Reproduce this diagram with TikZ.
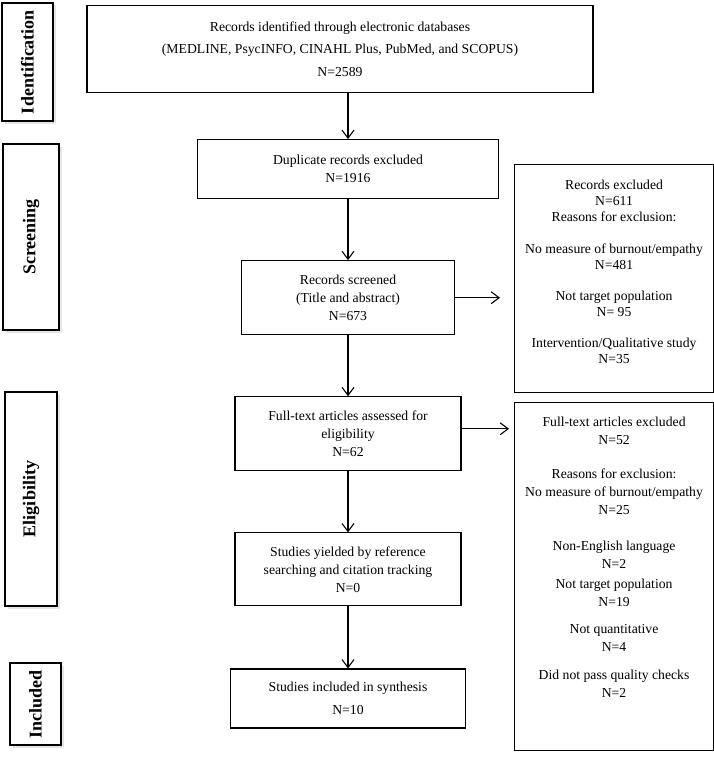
\documentclass[tikz,border=0pt]{standalone}
\usepackage{fontspec}
\setmainfont{Liberation Serif}
\usepackage{tikz}
\usetikzlibrary{arrows.meta,positioning,shadows}

\begin{document}
\begin{tikzpicture}[
    x=1pt, y=-1pt,
    box/.style={rectangle, draw, line width=1.1pt, align=center, inner sep=0pt, font=\fontsize{13.7}{18}\selectfont},
    widebox/.style={box, font=\fontsize{13.7}{22.5}\selectfont},
    exclbox/.style={box, minimum width=199pt, anchor=north west},
    phase/.style={rectangle, draw, line width=1.1pt, fill=white, rotate=90, inner sep=0pt, font=\fontsize{18}{20}\selectfont\bfseries, drop shadow={shadow xshift=2.5pt, shadow yshift=-2.5pt, fill=gray!40}},
    arrow/.style={-{Straight Barb[length=8pt,width=12pt]}, line width=1.1pt}
]
\useasboundingbox (0,0) rectangle (714,760);

% Phase labels (left column)
\node[phase, minimum width=118pt, minimum height=51pt] (id_label) at (27.5,62) {Identification};
\node[phase, minimum width=186pt, minimum height=56pt] (scr_label) at (31,237) {Screening};
\node[phase, minimum width=214pt, minimum height=52pt] (elig_label) at (31,499) {Eligibility};
\node[phase, minimum width=82pt, minimum height=51pt] (incl_label) at (35.5,704) {Included};

% Main flow
\node[widebox, minimum width=506pt, minimum height=87pt] (db_search) at (340,49) {Records identified through electronic databases\\(MEDLINE, PsycINFO, CINAHL Plus, PubMed, and SCOPUS)\\N=2589};
\node[box, minimum width=301pt, minimum height=59pt, below=46pt of db_search, xshift=8pt] (dup_excl) {Duplicate records excluded\\N=1916};
\node[box, minimum width=213pt, minimum height=74pt, below=61pt of dup_excl] (screened) {Records screened\\(Title and abstract)\\N=673};
\node[box, minimum width=226pt, minimum height=74pt, below=61pt of screened] (fulltext) {Full-text articles assessed for\\eligibility\\N=62};
\node[box, minimum width=226pt, minimum height=73pt, below=61pt of fulltext] (ref_search) {Studies yielded by reference\\searching and citation tracking\\N=0};
\node[widebox, minimum width=235pt, minimum height=59pt, below=62pt of ref_search] (included) {Studies included in synthesis\\N=10};

% Exclusion boxes (right column)
\node[exclbox, minimum height=228pt, font=\fontsize{13.7}{16}\selectfont] (screen_excl) at (514,164) {Records excluded\\N=611\\Reasons for exclusion:\\[16pt]No measure of burnout/empathy\\N=481\\[15pt]Not target population\\N= 95\\[15pt]Intervention/Qualitative study\\N=35\\[-2pt]\mbox{}};
\node[exclbox, minimum height=348pt, below=9pt of screen_excl] (fulltext_excl) {Full-text articles excluded\\N=52\\[16pt]Reasons for exclusion:\\No measure of burnout/empathy\\N=25\\[18pt]Non-English language\\N=2\\[2pt]Not target population\\N=19\\[9pt]Not quantitative\\N=4\\[10pt]Did not pass quality checks\\N=2\\[20pt]\mbox{}};

% Arrows - main flow
\draw[arrow] (db_search.south -| dup_excl.north) -- (dup_excl.north);
\draw[arrow] (dup_excl) -- (screened);
\draw[arrow] (screened) -- (fulltext);
\draw[arrow] (fulltext) -- (ref_search);
\draw[arrow] (ref_search) -- (included);

% Arrows - exclusions
\draw[arrow] (screened.east) -- ([xshift=-14pt]screened.east -| screen_excl.west);
\draw[arrow] ([yshift=5pt]fulltext.east) -- ([xshift=-5pt,yshift=5pt]fulltext.east -| fulltext_excl.west);

\end{tikzpicture}
\end{document}
